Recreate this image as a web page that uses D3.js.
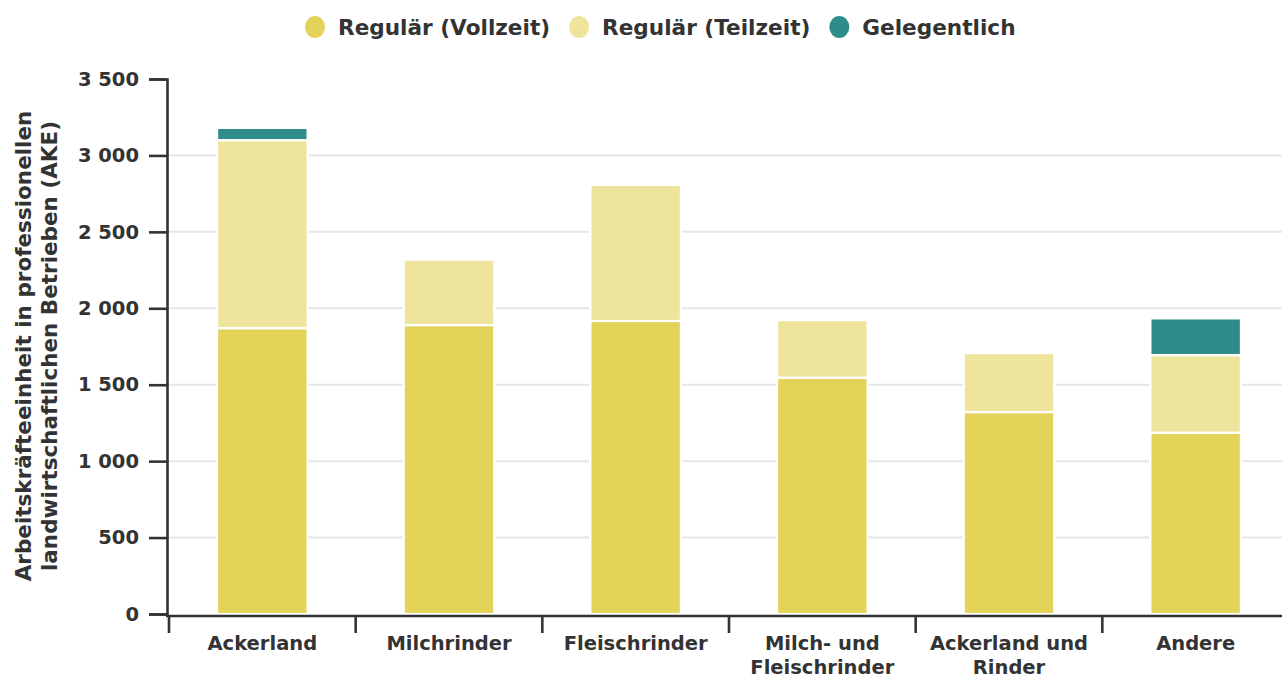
<!DOCTYPE html>
<html lang="de">
<head>
<meta charset="UTF-8">
<title>AKE nach Betriebstyp</title>
<script src="https://d3js.org/d3.v7.min.js"></script>
<style>
    body { margin: 0; background: #fff; }
    svg { display: block; }
    text { font-family: "DejaVu Sans", sans-serif; font-weight: bold; fill: #333; }
</style>
</head>
<body>
<script>
    // data
    const categories = ["Ackerland", "Milchrinder", "Fleischrinder", "Milch- und Fleischrinder", "Ackerland und Rinder", "Andere"]
    const catLines = [["Ackerland"], ["Milchrinder"], ["Fleischrinder"], ["Milch- und", "Fleischrinder"], ["Ackerland und", "Rinder"], ["Andere"]]
    const vollzeit = [1870, 1890, 1917, 1546, 1321, 1186]
    const teilzeit = [1230, 428, 890, 377, 386, 508]
    const gelegentlich = [80, 0, 0, 0, 0, 240]
    const seriesNames = ["Regulär (Vollzeit)", "Regulär (Teilzeit)", "Gelegentlich"]
    const seriesColors = ["#e3d358", "#efe49b", "#2e8d8a"]
    const yTicks = [0, 500, 1000, 1500, 2000, 2500, 3000, 3500]

    const width = 1282
    const height = 679
    const svg = d3.select("body").append("svg")
        .attr("width", width)
        .attr("height", height)

    const table = categories.map((c, i) => ({
        cat: c,
        "Regulär (Vollzeit)": vollzeit[i],
        "Regulär (Teilzeit)": teilzeit[i],
        "Gelegentlich": gelegentlich[i]
    }))
    const stacked = d3.stack().keys(seriesNames)(table)

    const x = d3.scaleBand()
        .domain(categories)
        .range([169, 1289])
        .padding(0)
    const y = d3.scaleLinear()
        .domain([0, 3500])
        .range([614, 79])
    const color = d3.scaleOrdinal().domain(seriesNames).range(seriesColors)

    // grid lines
    svg.append("g")
        .selectAll("line")
        .data(yTicks.filter(t => t > 0 && t < 3500))
        .join("line")
        .attr("x1", 168).attr("x2", width)
        .attr("y1", d => y(d)).attr("y2", d => y(d))
        .attr("stroke", "#e6e6e6")
        .attr("stroke-width", 2)

    // bars
    const barW = x.bandwidth() * 0.485
    svg.append("g")
        .selectAll("g")
        .data(stacked)
        .join("g")
        .attr("fill", d => color(d.key))
        .selectAll("rect")
        .data(d => d.filter(s => s[1] - s[0] > 0))
        .join("rect")
        .attr("x", d => x(d.data.cat) + (x.bandwidth() - barW) / 2)
        .attr("y", d => y(d[1]))
        .attr("width", barW)
        .attr("height", d => y(d[0]) - y(d[1]))
        .attr("stroke", "#fff")
        .attr("stroke-width", 2.2)

    // y axis
    const yAxis = svg.append("g")
        .attr("transform", "translate(167,0)")
        .call(d3.axisLeft(y)
            .tickValues(yTicks)
            .tickSize(18)
            .tickPadding(10)
            .tickFormat(d => d3.format(",")(d).replace(/,/g, " ")))
    yAxis.select(".domain").attr("stroke", "#333").attr("stroke-width", 2.6)
    yAxis.selectAll(".tick line").attr("stroke", "#333").attr("stroke-width", 2.6)
    yAxis.selectAll(".tick text")
        .attr("fill", "#333")
        .style("font-family", "'DejaVu Sans', sans-serif")
        .style("font-weight", "bold")
        .style("font-size", "19.5px")

    // x axis with ticks between the categories
    const xAxis = svg.append("g").attr("transform", "translate(0,616)")
    xAxis.append("line")
        .attr("x1", 166).attr("x2", width)
        .attr("stroke", "#333").attr("stroke-width", 2.6)
    const bounds = categories.map(c => x(c)).concat([x.range()[1]])
    xAxis.selectAll(".xt")
        .data(bounds)
        .join("line")
        .attr("x1", d => d).attr("x2", d => d)
        .attr("y1", 0).attr("y2", 17)
        .attr("stroke", "#333").attr("stroke-width", 2.6)
    xAxis.selectAll(".xl")
        .data(categories)
        .join("text")
        .attr("text-anchor", "middle")
        .style("font-size", "19.5px")
        .each(function (d, i) {
            const t = d3.select(this)
            catLines[i].forEach((ln, k) => {
                t.append("tspan")
                    .attr("x", x(d) + x.bandwidth() / 2)
                    .attr("y", 34 + k * 24)
                    .text(ln)
            })
        })

    // y axis title
    const yTitle = svg.append("text")
        .attr("transform", "translate(0,346) rotate(-90)")
        .attr("text-anchor", "middle")
        .style("font-size", "21.5px")
    yTitle.append("tspan").attr("x", 0).attr("y", 31).text("Arbeitskräfteeinheit in professionellen")
    yTitle.append("tspan").attr("x", 0).attr("y", 57).text("landwirtschaftlichen Betrieben (AKE)")

    // legend
    const legend = svg.append("g").attr("transform", "translate(0,27)")
    let lx = 315
    seriesNames.forEach((s, i) => {
        legend.append("ellipse")
            .attr("cx", lx).attr("cy", 0)
            .attr("rx", 10).attr("ry", 11)
            .attr("fill", color(s))
        const t = legend.append("text")
            .attr("x", lx + 23).attr("y", 8)
            .style("font-size", "21.6px")
            .text(s)
        lx += 23 + t.node().getComputedTextLength() + 29
    })
</script>
</body>
</html>
